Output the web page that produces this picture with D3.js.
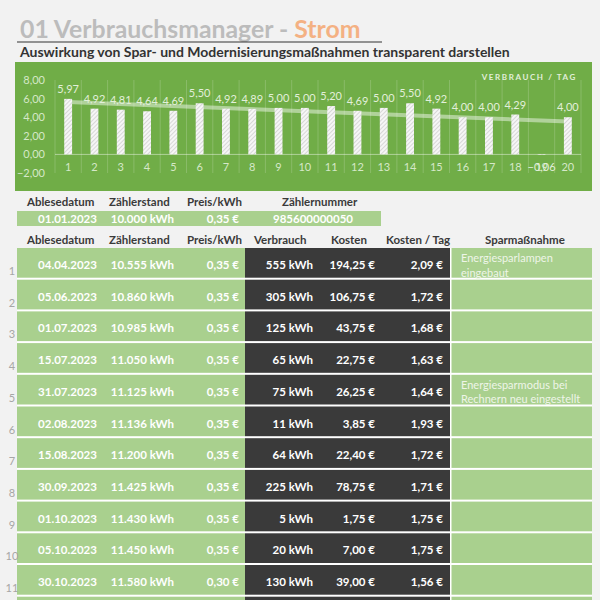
<!DOCTYPE html>
<html><head><meta charset="utf-8">
<script src="https://cdn.jsdelivr.net/npm/d3@7"></script>
<style>
html,body{margin:0;padding:0;background:#f2f2f2;}
svg{display:block;font-family:Lato,"Noto Sans",sans-serif;}
</style></head>
<body>
<svg id="c" width="600" height="600"></svg>
<script>
// ---------- data ----------
const categories = ["1","2","3","4","5","6","7","8","9","10","11","12","13","14","15","16","17","18","19","20"];
const perDay = [5.97,4.92,4.81,4.64,4.69,5.50,4.92,4.89,5.00,5.00,5.20,4.69,5.00,5.50,4.92,4.00,4.00,4.29,-0.06,4.00];
const trendEnds = [5.64, 3.54];            // linear trend line (first / last category)
const yTicks = [-2,0,2,4,6,8];
const chartTitle = "VERBRAUCH / TAG";

const startHeaders = ["Ablesedatum","Zählerstand","Preis/kWh","Zählernummer"];
const startDate = "01.01.2023", startReading = 10000, startPrice = 0.35, meterNumber = "985600000050";

const tableHeaders = ["Ablesedatum","Zählerstand","Preis/kWh","Verbrauch","Kosten","Kosten / Tag","Sparmaßnahme"];
const dates = ["04.04.2023","05.06.2023","01.07.2023","15.07.2023","31.07.2023","02.08.2023","15.08.2023","30.09.2023","01.10.2023","05.10.2023","30.10.2023",""];
const readings = [10555,10860,10985,11050,11125,11136,11200,11425,11430,11450,11580,null];
const prices = [0.35,0.35,0.35,0.35,0.35,0.35,0.35,0.35,0.35,0.35,0.30,null];
const consumption = [555,305,125,65,75,11,64,225,5,20,130,null];
const costs = [194.25,106.75,43.75,22.75,26.25,3.85,22.40,78.75,1.75,7.00,39.00,null];
const costPerDay = [2.09,1.72,1.68,1.63,1.64,1.93,1.72,1.71,1.75,1.75,1.56,null];
const measures = [["Energiesparlampen","eingebaut"],[],[],[],["Energiesparmodus bei","Rechnern neu eingestellt"],[],[],[],[],[],[],[]];

// ---------- helpers ----------
const de = d3.formatLocale({decimal:",", thousands:".", grouping:[3], currency:["","\u00a0€"]});
const f2 = de.format(".2f");
const fInt = de.format(",.0f");
const svg = d3.select("#c");

// background
svg.append("rect").attr("width",600).attr("height",600).attr("fill","#f2f2f2");

// title
const t = svg.append("text").attr("x",20).attr("y",37.5)
  .attr("font-size",24.8).attr("font-weight",700).attr("fill","#bcbcbc");
t.append("tspan").text("01 Verbrauchsmanager - ");
t.append("tspan").attr("fill","#f4b183").text("Strom");
svg.append("line").attr("x1",17).attr("x2",382).attr("y1",42).attr("y2",42)
  .attr("stroke","#333").attr("stroke-width",1.2);
svg.append("text").attr("x",20).attr("y",57).attr("font-size",14).attr("font-weight",700)
  .attr("fill","#333").text("Auswirkung von Spar- und Modernisierungsmaßnahmen transparent darstellen");

// ---------- chart ----------
svg.append("rect").attr("x",15).attr("y",62).attr("width",577).attr("height",129).attr("fill","#70ad47");

const defs = svg.append("defs");
const pat = defs.append("pattern").attr("id","hatch").attr("patternUnits","userSpaceOnUse")
  .attr("width",3).attr("height",3).attr("patternTransform","rotate(45)");
pat.append("rect").attr("width",3).attr("height",3).attr("fill","#f6f6f6");
pat.append("line").attr("x1",0).attr("y1",0).attr("x2",0).attr("y2",3).attr("stroke","#bdbdbd").attr("stroke-width",1.1);

const x = d3.scaleBand().domain(categories).range([55,581]).paddingInner(0.7).paddingOuter(0.35);
const xg = d3.scaleBand().domain(categories).range([55,581]);
const y = d3.scaleLinear().domain([-2,8]).range([173,80]);
const lightTxt = "#e2efda";

// vertical gridlines
const gx = categories.map(c=>xg(c)).concat([xg.range()[1]]);
svg.append("g").selectAll("line").data(gx).join("line")
  .attr("x1",d=>d).attr("x2",d=>d).attr("y1",y(8)).attr("y2",y(-2))
  .attr("stroke","rgba(255,255,255,0.18)").attr("stroke-width",1);
// zero line
svg.append("line").attr("x1",55).attr("x2",581).attr("y1",y(0)).attr("y2",y(0))
  .attr("stroke","rgba(255,255,255,0.45)").attr("stroke-width",1);

// y axis
const ya = svg.append("g").attr("transform","translate(55,0)")
  .call(d3.axisLeft(y).tickValues(yTicks).tickFormat(f2).tickSize(0).tickPadding(10));
ya.select(".domain").remove();
ya.selectAll("text").attr("fill","#d5e8c8").attr("font-size",11).attr("font-family","Lato,sans-serif");

// x axis labels
const xa = svg.append("g").attr("transform","translate(0,171)")
  .call(d3.axisBottom(x).tickSize(0).tickPadding(0));
xa.select(".domain").remove();
xa.selectAll("text").attr("dy","0").attr("fill","#d5e8c8").attr("font-size",11).attr("font-family","Lato,sans-serif");

// trend line (behind bars)
svg.append("line")
  .attr("x1",x(categories[0])+x.bandwidth()/2).attr("y1",y(trendEnds[0]))
  .attr("x2",x(categories[categories.length-1])+x.bandwidth()/2).attr("y2",y(trendEnds[1]))
  .attr("stroke","rgba(255,255,255,0.45)").attr("stroke-width",4);

// bars
svg.append("g").selectAll("rect").data(perDay).join("rect")
  .attr("x",(d,i)=>x(categories[i])).attr("width",x.bandwidth())
  .attr("y",d=>d>=0?y(d):y(0)).attr("height",d=>Math.abs(y(d)-y(0)))
  .attr("fill","url(#hatch)");

// value labels
svg.append("g").selectAll("text").data(perDay).join("text")
  .attr("x",(d,i)=>x(categories[i])+x.bandwidth()/2)
  .attr("y",d=>d>=0?y(d)-6:171)
  .attr("text-anchor","middle").attr("font-size",11).attr("fill",lightTxt)
  .text(d=>f2(d));

svg.append("text").attr("x",577).attr("y",80).attr("text-anchor","end")
  .attr("font-size",8).attr("font-weight",700).attr("letter-spacing",1.6)
  .attr("fill",lightTxt).text(chartTitle);

// ---------- start row ----------
const hdrColor = "#3a3a3a";
const h1x = [27,109,187,282];
svg.append("g").selectAll("text").data(startHeaders).join("text")
  .attr("x",(d,i)=>h1x[i]).attr("y",206).attr("font-size",11.5).attr("font-weight",700)
  .attr("fill",hdrColor).text(d=>d);
svg.append("rect").attr("x",17).attr("y",211).attr("width",364).attr("height",15).attr("fill","#a9d08e");
const s = svg.append("g").attr("font-size",11.5).attr("font-weight",700).attr("fill","#ffffff");
s.append("text").attr("x",67.5).attr("y",222.5).attr("text-anchor","middle").text(startDate);
s.append("text").attr("x",174).attr("y",222.5).attr("text-anchor","end").text(fInt(startReading)+" kWh");
s.append("text").attr("x",239).attr("y",222.5).attr("text-anchor","end").text(f2(startPrice)+" €");
s.append("text").attr("x",313).attr("y",222.5).attr("text-anchor","middle").text(meterNumber);

// ---------- table ----------
const h2x = [27,109,187,254,331,386,485];
svg.append("g").selectAll("text").data(tableHeaders).join("text")
  .attr("x",(d,i)=>h2x[i]).attr("y",244).attr("font-size",11.5).attr("font-weight",700)
  .attr("fill",hdrColor).text(d=>d);

const rowTop0 = 248, pitch = 31.7, boxH = 29.7;
svg.append("rect").attr("x",17).attr("y",rowTop0).attr("width",575).attr("height",600-rowTop0).attr("fill","#ffffff");

const rows = svg.append("g").selectAll("g").data(dates).join("g")
  .attr("transform",(d,i)=>`translate(0,${rowTop0+i*pitch})`);
rows.append("rect").attr("x",17).attr("width",228).attr("height",boxH).attr("fill","#a9d08e");
rows.append("rect").attr("x",245).attr("width",205).attr("height",boxH).attr("fill","#3a3a3a");
rows.append("rect").attr("x",451.5).attr("width",140.5).attr("height",boxH).attr("fill","#a9d08e");
rows.filter(d=>d!=="").append("text").attr("x",12).attr("y",27).attr("text-anchor","middle").attr("font-size",11)
  .attr("fill","#a6a6a6").text((d,i)=>String(i+1));
const cell = (sel,xx,anchor,fn)=>sel.append("text").attr("x",xx).attr("y",21).attr("text-anchor",anchor)
  .attr("font-size",11.5).attr("font-weight",700).attr("fill","#ffffff").text(fn);
cell(rows,67.5,"middle",(d)=>d);
cell(rows,174,"end",(d,i)=>readings[i]==null?"":fInt(readings[i])+" kWh");
cell(rows,239,"end",(d,i)=>prices[i]==null?"":f2(prices[i])+" €");
cell(rows,313,"end",(d,i)=>consumption[i]==null?"":fInt(consumption[i])+" kWh");
cell(rows,375,"end",(d,i)=>costs[i]==null?"":f2(costs[i])+" €");
cell(rows,443,"end",(d,i)=>costPerDay[i]==null?"":f2(costPerDay[i])+" €");
rows.each(function(d,i){
  const g = d3.select(this);
  measures[i].forEach((line,k)=>{
    g.append("text").attr("x",461).attr("y",14+k*14.5).attr("font-size",11)
      .attr("fill","#eef5e8").text(line);
  });
});
</script>
</body></html>
